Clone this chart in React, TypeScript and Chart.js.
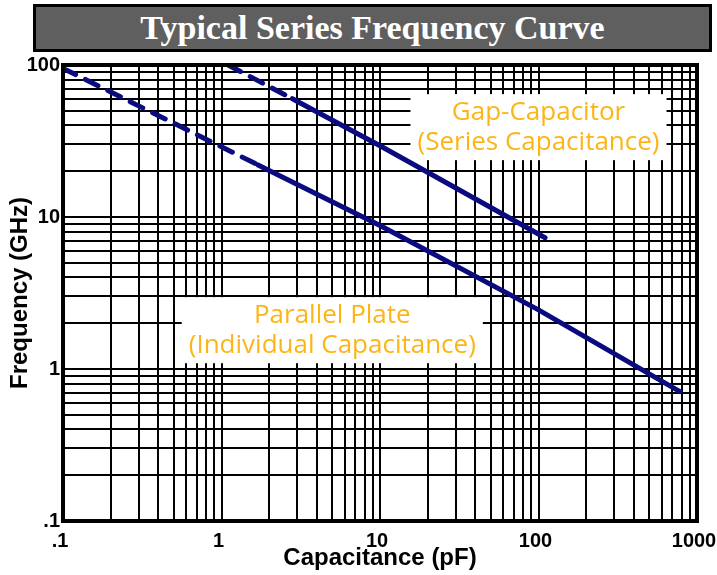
import React, { useEffect, useRef } from 'react';
import { Chart, registerables } from 'chart.js';

Chart.register(...registerables);

const TITLE = 'Typical Series Frequency Curve';
const X_TITLE = 'Capacitance (pF)';
const Y_TITLE = 'Frequency (GHz)';

// grid lines (log graph paper)
const X_GRID = [
  0.1, 0.2, 0.3, 0.4, 0.5, 0.6, 0.7, 0.8, 0.9,
  1, 2, 3, 4, 5, 6, 7, 8, 9,
  10, 20, 30, 40, 50, 60, 70, 80, 90,
  100, 200, 300, 400, 500, 600, 700, 800, 900,
  1000,
];
const Y_GRID = [
  0.1, 0.2, 0.3, 0.4, 0.5, 0.6, 0.7, 0.8, 0.9,
  1, 2, 3, 4, 5, 6, 7, 8, 9,
  10, 20, 30, 40, 50, 60, 70, 80, 90,
  100,
];
const X_LABEL_VALUES = [0.1, 1, 10, 100, 1000];
const X_LABEL_TEXT = ['.1', '1', '10', '100', '1000'];
const Y_LABEL_VALUES = [0.1, 1, 10, 100];
const Y_LABEL_TEXT = ['.1', '1', '10', '100'];

// Parallel plate (individual capacitance)
const PARALLEL_C = [0.1, 1.7, 10, 100, 780];
const PARALLEL_F = [95, 22, 8.8, 2.45, 0.71];
// Gap capacitor (series capacitance)
const GAP_C = [1.1, 2.8, 10, 110];
const GAP_F = [100, 60, 29.4, 7.3];
// number of leading segments drawn dashed
const DASHED_SEGMENTS = 1;

const NOTE_LINES = [
  ['Gap-Capacitor', '(Series Capacitance)'],
  ['Parallel Plate', '(Individual Capacitance)'],
];
const NOTE_X = [100, 5];
const NOTE_Y = [39, 1.8];

const LINE_COLOR = '#0b0b80';
const NOTE_COLOR = '#FDB515';

const labelFor = (values: number[], texts: string[]) => (v: any) => {
  const n = Number(v);
  for (let i = 0; i < values.length; i++) {
    if (Math.abs(values[i] - n) / values[i] < 1e-6) return texts[i];
  }
  return '';
};

const notesPlugin = {
  id: 'notes',
  beforeDatasetsDraw(chart: any) {
    const { ctx, scales } = chart;
    ctx.save();
    ctx.font = '26px "Open Sans", "Noto Sans", sans-serif';
    ctx.textAlign = 'center';
    ctx.textBaseline = 'middle';
    NOTE_LINES.forEach((lines, i) => {
      const cx = scales.x.getPixelForValue(NOTE_X[i]);
      const cy = scales.y.getPixelForValue(NOTE_Y[i]);
      const w = Math.max(...lines.map((l) => ctx.measureText(l).width)) + 14;
      const lh = 30;
      const h = lines.length * lh + 6;
      ctx.fillStyle = '#ffffff';
      ctx.fillRect(cx - w / 2, cy - h / 2, w, h);
      ctx.fillStyle = NOTE_COLOR;
      lines.forEach((l, j) => {
        ctx.fillText(l, cx, cy + (j - (lines.length - 1) / 2) * lh);
      });
    });
    ctx.restore();
  },
};

const framePlugin = {
  id: 'frame',
  afterDraw(chart: any) {
    const { ctx, chartArea } = chart;
    ctx.save();
    ctx.strokeStyle = '#000';
    ctx.lineWidth = 4;
    ctx.strokeRect(
      chartArea.left,
      chartArea.top,
      chartArea.right - chartArea.left,
      chartArea.bottom - chartArea.top
    );
    ctx.restore();
  },
};

export default function App() {
  const ref = useRef<HTMLCanvasElement | null>(null);

  useEffect(() => {
    if (!ref.current) return;
    const dashSeg = (ctx: any) =>
      ctx.p0DataIndex < DASHED_SEGMENTS ? [14, 11] : undefined;
    const chart = new Chart(ref.current, {
      type: 'line',
      data: {
        datasets: [
          {
            label: 'Parallel Plate',
            data: PARALLEL_C.map((c, i) => ({ x: c, y: PARALLEL_F[i] })),
            borderColor: LINE_COLOR,
            borderWidth: 5,
            borderCapStyle: 'round',
            pointRadius: 0,
            tension: 0,
            segment: { borderDash: dashSeg },
          },
          {
            label: 'Gap-Capacitor',
            data: GAP_C.map((c, i) => ({ x: c, y: GAP_F[i] })),
            borderColor: LINE_COLOR,
            borderWidth: 5,
            borderCapStyle: 'round',
            pointRadius: 0,
            tension: 0,
            segment: { borderDash: dashSeg },
          },
        ],
      },
      options: {
        animation: false,
        responsive: false,
        devicePixelRatio: 1,
        layout: { padding: { top: 65, right: 20, left: 0, bottom: 0 } },
        plugins: {
          legend: { display: false },
          tooltip: { enabled: false },
          title: { display: false },
        },
        scales: {
          x: {
            type: 'logarithmic',
            min: 0.1,
            max: 1000,
            afterBuildTicks: (s: any) => {
              s.ticks = X_GRID.map((v) => ({ value: v }));
            },
            afterFit: (s: any) => {
              s.height = 54;
              s.paddingLeft = 0;
              s.paddingRight = 0;
            },
            grid: { color: '#000', lineWidth: 2, drawTicks: false },
            border: { display: false },
            ticks: {
              autoSkip: false,
              maxRotation: 0,
              padding: 8,
              labelOffset: -3,
              color: '#000',
              font: { family: '"Liberation Sans", Arial, sans-serif', size: 20, weight: 'bold' },
              callback: labelFor(X_LABEL_VALUES, X_LABEL_TEXT),
            },
            title: {
              display: true,
              text: X_TITLE,
              color: '#000',
              padding: { top: 0, bottom: 2 },
              font: { family: '"Liberation Sans", Arial, sans-serif', size: 24, weight: 'bold' },
            },
          },
          y: {
            type: 'logarithmic',
            min: 0.1,
            max: 100,
            afterBuildTicks: (s: any) => {
              s.ticks = Y_GRID.map((v) => ({ value: v }));
            },
            afterFit: (s: any) => {
              s.width = 63;
              s.paddingTop = 0;
              s.paddingBottom = 0;
            },
            grid: { color: '#000', lineWidth: 2, drawTicks: false },
            border: { display: false },
            ticks: {
              autoSkip: false,
              padding: 3,
              color: '#000',
              font: { family: '"Liberation Sans", Arial, sans-serif', size: 20, weight: 'bold' },
              callback: labelFor(Y_LABEL_VALUES, Y_LABEL_TEXT),
            },
            title: {
              display: true,
              text: Y_TITLE,
              color: '#000',
              padding: { top: 6, bottom: 0 },
              font: { family: '"Liberation Sans", Arial, sans-serif', size: 24, weight: 'bold' },
            },
          },
        },
      },
      plugins: [notesPlugin, framePlugin],
    } as any);
    return () => chart.destroy();
  }, []);

  return (
    <div style={{ position: 'fixed', left: 0, top: 0, width: 717, height: 575, background: '#fff' }}>
      <canvas ref={ref} width={717} height={575} style={{ position: 'absolute', left: 0, top: 0 }} />
      <div
        style={{
          position: 'absolute',
          left: 33,
          top: 4,
          width: 679,
          height: 48,
          boxSizing: 'border-box',
          border: '3px solid #000',
          background: '#5f5f5f',
          color: '#fff',
          fontFamily: '"Liberation Serif", "Times New Roman", serif',
          fontWeight: 'bold',
          fontSize: 34,
          lineHeight: '42px',
          textAlign: 'center',
          whiteSpace: 'nowrap',
        }}
      >
        {TITLE}
      </div>
    </div>
  );
}
